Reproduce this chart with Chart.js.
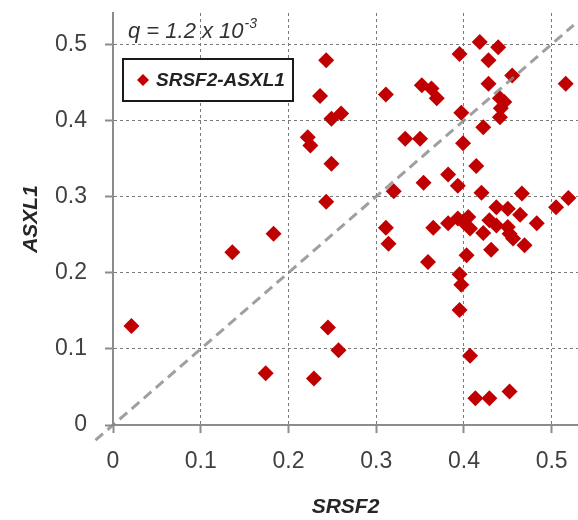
<!DOCTYPE html>
<html>
<head>
<meta charset="utf-8">
<script src="https://cdn.jsdelivr.net/npm/chart.js@4.4.1/dist/chart.umd.min.js"></script>
<style>
  html, body { margin: 0; padding: 0; background: #fff; }
  canvas { display: block; }
</style>
</head>
<body>
<canvas id="vafChart" width="578" height="520"></canvas>
<script>
// variant allele fractions
var srsf2 = [0.021, 0.136, 0.183, 0.174, 0.243, 0.236, 0.249, 0.260, 0.222, 0.225,
  0.249, 0.243, 0.311, 0.352, 0.363, 0.369, 0.333, 0.350, 0.320, 0.354,
  0.382, 0.393, 0.399, 0.414, 0.420, 0.397, 0.395, 0.418, 0.439, 0.428,
  0.455, 0.428, 0.441, 0.446, 0.442, 0.441, 0.422, 0.516, 0.466, 0.505,
  0.519, 0.311, 0.314, 0.365, 0.382, 0.393, 0.405, 0.407, 0.399, 0.437,
  0.450, 0.464, 0.429, 0.437, 0.450, 0.422, 0.452, 0.456, 0.483, 0.469,
  0.431, 0.403, 0.359, 0.395, 0.397, 0.395, 0.407, 0.413, 0.429, 0.452,
  0.245, 0.257, 0.229];
var asxl1 = [0.130, 0.227, 0.251, 0.068, 0.479, 0.432, 0.402, 0.409, 0.378, 0.367,
  0.343, 0.293, 0.434, 0.446, 0.442, 0.429, 0.376, 0.376, 0.307, 0.318,
  0.329, 0.314, 0.370, 0.340, 0.305, 0.410, 0.487, 0.503, 0.496, 0.479,
  0.459, 0.448, 0.429, 0.424, 0.416, 0.404, 0.391, 0.448, 0.304, 0.286,
  0.298, 0.259, 0.238, 0.259, 0.265, 0.271, 0.273, 0.258, 0.267, 0.286,
  0.284, 0.276, 0.269, 0.262, 0.260, 0.252, 0.251, 0.245, 0.265, 0.236,
  0.230, 0.223, 0.214, 0.198, 0.184, 0.151, 0.091, 0.035, 0.035, 0.044,
  0.128, 0.098, 0.061];
var diagLine = [-0.02, 0.525];
var ticks = [0, 0.1, 0.2, 0.3, 0.4, 0.5];
var seriesName = 'SRSF2-ASXL1';
var qText = 'q = 1.2 x 10';
var qExp = '-3';

var points = srsf2.map(function (x, i) { return { x: x, y: asxl1[i] }; });
var diagPoints = diagLine.map(function (v) { return { x: v, y: v }; });

var fontFamily = "'Liberation Sans', Arial, sans-serif";
var axisGray = '#8c8c8c';

var boxLegend = {
  id: 'boxLegend',
  afterDraw: function (chart) {
    var ctx = chart.ctx;
    ctx.save();
    // q value
    ctx.fillStyle = '#333';
    ctx.textBaseline = 'alphabetic';
    ctx.font = 'italic 22px ' + fontFamily;
    ctx.fillText(qText, 128, 38);
    var w = ctx.measureText(qText).width;
    ctx.font = 'italic 14px ' + fontFamily;
    ctx.fillText(qExp, 128 + w + 1, 28);
    // legend box
    ctx.fillStyle = '#fff';
    ctx.fillRect(123, 59, 170, 42);
    ctx.lineWidth = 2;
    ctx.strokeStyle = '#1a1a1a';
    ctx.strokeRect(123, 59, 170, 42);
    var ds = chart.data.datasets[0];
    ctx.fillStyle = ds.backgroundColor;
    Chart.helpers.drawPoint(ctx, { pointStyle: 'rectRot', radius: 6, borderWidth: 0 }, 143, 80);
    ctx.fillStyle = '#222';
    ctx.textBaseline = 'middle';
    ctx.font = 'italic bold 19px ' + fontFamily;
    ctx.fillText(ds.label, 156, 81);
    ctx.restore();
  }
};

function axisOptions(titleText, isX) {
  return {
    type: 'linear',
    min: 0,
    max: isX ? 0.53 : 0.541,
    afterBuildTicks: function (scale) {
      scale.ticks = ticks.map(function (v) { return { value: v }; });
    },
    afterFit: function (scale) {
      if (isX) {
        scale.height = 95;
        scale.paddingLeft = 0;
        scale.paddingRight = 0;
      } else {
        scale.width = 113;
        scale.paddingTop = 0;
        scale.paddingBottom = 0;
      }
    },
    ticks: {
      color: '#404040',
      font: { family: fontFamily, size: 23 },
      padding: isX ? 15 : 18,
      maxRotation: 0,
      callback: function (v) { return String(Math.round(v * 10) / 10); }
    },
    grid: {
      color: '#7a7a7a',
      lineWidth: 1,
      drawTicks: true,
      tickLength: 8,
      tickColor: axisGray,
      tickWidth: 2
    },
    border: { display: true, color: axisGray, width: 2, dash: [3, 3] },
    title: {
      display: true,
      text: titleText,
      color: '#262626',
      font: { family: fontFamily, size: 21, style: 'italic', weight: 'bold' },
      padding: isX ? { top: 0, bottom: 0 } : { top: 19, bottom: 0 }
    }
  };
}

new Chart(document.getElementById('vafChart').getContext('2d'), {
  type: 'scatter',
  data: {
    datasets: [{
      label: seriesName,
      data: points,
      pointStyle: 'rectRot',
      pointRadius: 8,
      pointHoverRadius: 8,
      backgroundColor: '#c00000',
      borderColor: '#c00000',
      borderWidth: 0,
      clip: false,
      order: 1
    }, {
      type: 'line',
      label: 'identity',
      data: diagPoints,
      showLine: true,
      pointRadius: 0,
      borderColor: 'rgba(135,135,135,0.8)',
      borderWidth: 3,
      borderDash: [10, 6],
      fill: false,
      clip: false,
      order: 0
    }]
  },
  options: {
    responsive: false,
    animation: false,
    devicePixelRatio: 1,
    layout: { autoPadding: false, padding: { top: 13, right: 0, bottom: 0, left: 0 } },
    plugins: {
      legend: { display: false },
      tooltip: { enabled: false }
    },
    scales: {
      x: axisOptions('SRSF2', true),
      y: axisOptions('ASXL1', false)
    }
  },
  plugins: [boxLegend]
});
</script>
</body>
</html>
